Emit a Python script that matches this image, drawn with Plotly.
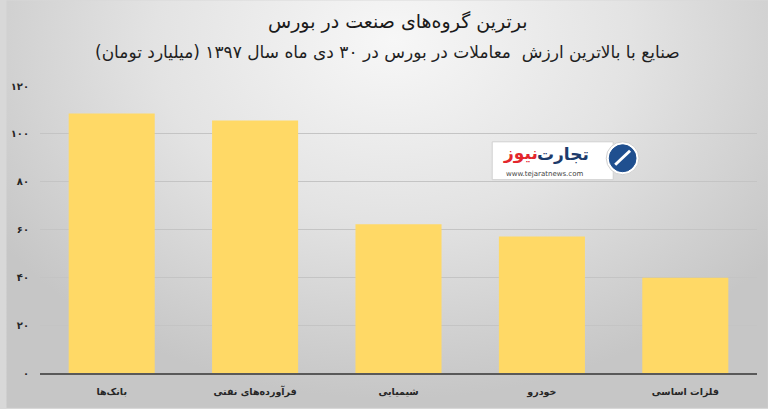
import base64
import plotly.graph_objects as go

categories = ["بانک‌ها", "فرآورده‌های نفتی", "شیمیایی", "خودرو", "فلزات اساسی"]
values = [108.5, 105.6, 62.2, 57.1, 39.8]
tick_vals = [0, 20, 40, 60, 80, 100, 120]
tick_text = ["۰", "۲۰", "۴۰", "۶۰", "۸۰", "۱۰۰", "۱۲۰"]

title = "برترین گروه‌های صنعت در بورس"
subtitle = "صنایع با بالاترین ارزش  معاملات در بورس در ۳۰ دی ماه سال ۱۳۹۷ (میلیارد تومان)\u200f"

W, H = 768, 409
ML, MR, MT, MB = 34, 11, 86, 35
PW, PH = W - ML - MR, H - MT - MB


def px(x):
    return (x - ML) / PW


def py(y):
    return (H - MB - y) / PH


svg = f"""<svg xmlns='http://www.w3.org/2000/svg' width='{W}' height='{H}' viewBox='0 0 {W} {H}' preserveAspectRatio='none'>
<defs><radialGradient id='g' gradientUnits='userSpaceOnUse' cx='390' cy='40' r='480' gradientTransform='translate(390 40) scale(1 0.75) translate(-390 -40)'>
<stop offset='0' stop-color='#f7f7f7'/><stop offset='0.5' stop-color='#e3e3e3'/><stop offset='1' stop-color='#c6c6c6'/>
</radialGradient></defs><rect width='{W}' height='{H}' fill='url(#g)'/></svg>"""
bg_uri = "data:image/svg+xml;base64," + base64.b64encode(svg.encode()).decode()

fig = go.Figure(
    go.Bar(
        x=categories,
        y=values,
        marker=dict(color="#FFD966", line=dict(width=0)),
        hoverinfo="skip",
    )
)

fig.update_layout(
    width=W,
    height=H,
    margin=dict(l=ML, r=MR, t=MT, b=MB),
    paper_bgcolor="#d8d8d8",
    plot_bgcolor="rgba(0,0,0,0)",
    bargap=0.4,
    showlegend=False,
    font=dict(family="DejaVu Sans", color="#262626"),
    images=[
        dict(
            source=bg_uri,
            xref="paper",
            yref="paper",
            x=px(0),
            y=py(0),
            sizex=W / PW,
            sizey=H / PH,
            sizing="stretch",
            xanchor="left",
            yanchor="top",
            layer="below",
        )
    ],
)

fig.update_xaxes(
    showline=True,
    linecolor="#595959",
    linewidth=2,
    ticks="",
    tickvals=categories,
    ticktext=["<b>" + c + "</b>" for c in categories],
    tickfont=dict(size=9.5, color="#262626", family="DejaVu Sans"),
    ticklabelstandoff=9,
    showgrid=False,
)
fig.update_yaxes(
    range=[0, 120],
    tickvals=tick_vals,
    ticktext=["<b>" + t + "</b>" for t in tick_text],
    showgrid=True,
    gridcolor="#c4c4c4",
    gridwidth=1,
    zeroline=False,
    showline=False,
    ticks="",
    ticklabelstandoff=10,
    tickfont=dict(size=10, color="#262626", family="DejaVu Sans"),
)

annotations = [
    dict(text=title, x=px(395), y=py(21), font=dict(size=19, color="#1a1a1a")),
    dict(text=subtitle, x=px(384), y=py(52), font=dict(size=17, color="#1f1f1f")),
    # watermark logo
    dict(text="<b>تجارت</b>", x=px(561), y=py(154), font=dict(size=17, color="#1d3b6b", family="DejaVu Sans")),
    dict(text="<b>نیوز</b>", x=px(519), y=py(154), font=dict(size=17, color="#e3262d", family="DejaVu Sans")),
    dict(text="www.tejaratnews.com", x=px(543), y=py(174), font=dict(size=7, color="#444444")),
]
for a in annotations:
    a.update(xref="paper", yref="paper", showarrow=False, xanchor="center", yanchor="middle")
fig.update_layout(annotations=annotations)

fig.add_shape(
    type="rect", xref="paper", yref="paper",
    x0=px(490), x1=px(612), y0=py(180), y1=py(142),
    fillcolor="white", line=dict(color="#d0d0d0", width=1), layer="above",
)
fig.add_shape(
    type="circle", xref="paper", yref="paper",
    x0=px(605), x1=px(638), y0=py(175), y1=py(142),
    fillcolor="white", line=dict(color="#d0d0d0", width=1), layer="above",
)
fig.add_shape(
    type="circle", xref="paper", yref="paper",
    x0=px(608), x1=px(635), y0=py(172), y1=py(145),
    fillcolor="#1f4f8f", line=dict(color="#1f4f8f", width=1), layer="above",
)
fig.add_shape(
    type="line", xref="paper", yref="paper",
    x0=px(614), x1=px(629), y0=py(165), y1=py(151),
    line=dict(color="white", width=3), layer="above",
)

fig.write_html(
    "out.html",
    config={"displayModeBar": False},
    post_script="document.body.style.margin='0';",
)
